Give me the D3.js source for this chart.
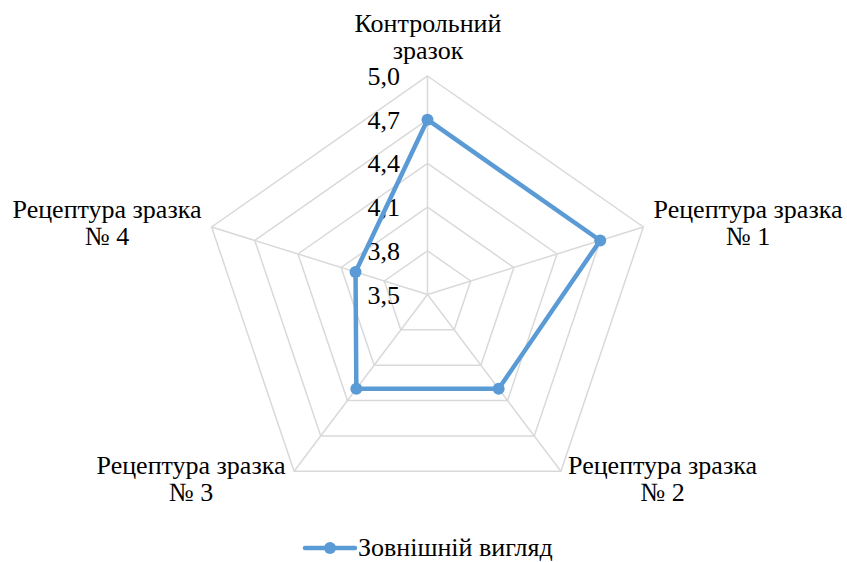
<!DOCTYPE html>
<html><head><meta charset="utf-8">
<script src="https://cdn.jsdelivr.net/npm/d3@7"></script>
<style>body{margin:0;background:#fff}svg{display:block}</style>
</head><body>
<svg id="c" width="847" height="562"></svg>
<script>
const categories = [["Контрольний","зразок"],["Рецептура зразка","№ 1"],["Рецептура зразка","№ 2"],["Рецептура зразка","№ 3"],["Рецептура зразка","№ 4"]];
const seriesName = "Зовнішній вигляд";
const values = [4.7, 4.7, 4.3, 4.3, 4.0];
const ticks = [3.5, 3.8, 4.1, 4.4, 4.7, 5.0];
const tickLabels = ["3,5","3,8","4,1","4,4","4,7","5,0"];

const FONT = "'Liberation Serif', 'Times New Roman', serif";
const FS = 26;
const svg = d3.select("#c");
const cx = 427.5, cy = 294.5, rx = 227, ry = 218.5;
const r = d3.scaleLinear().domain([3.5, 5.0]).range([0, 1]);
const n = categories.length;
const ang = i => i * 2 * Math.PI / n;
const pt = (i, v) => [cx + rx * r(v) * Math.sin(ang(i)), cy - ry * r(v) * Math.cos(ang(i))];

const grid = svg.append("g");
ticks.slice(1).forEach(t => {
  grid.append("path")
    .attr("d", d3.line()(d3.range(n).map(i => pt(i, t))) + "Z")
    .attr("fill", "none").attr("stroke", "#d9d9d9").attr("stroke-width", 1.5);
});
d3.range(n).forEach(i => {
  const p = pt(i, 5.0);
  grid.append("line").attr("x1", cx).attr("y1", cy).attr("x2", p[0]).attr("y2", p[1])
    .attr("stroke", "#d9d9d9").attr("stroke-width", 1.5);
});

ticks.forEach((t, k) => {
  svg.append("text").attr("x", 400).attr("y", cy - ry * r(t) + 9)
    .attr("text-anchor", "end").attr("font-size", FS).attr("font-family", FONT).text(tickLabels[k]);
});

const col = "#5b9bd5";
svg.append("path")
  .attr("d", d3.line()(values.map((v, i) => pt(i, v))) + "Z")
  .attr("fill", "none").attr("stroke", col).attr("stroke-width", 4.5).attr("stroke-linejoin", "round");
svg.selectAll("circle.m").data(values).join("circle").attr("class", "m")
  .attr("cx", (v, i) => pt(i, v)[0]).attr("cy", (v, i) => pt(i, v)[1])
  .attr("r", 6).attr("fill", col);

const labelPos = [[428, 31.5], [748, 217.5], [662.5, 473.5], [191, 473.5], [107, 217.5]];
categories.forEach((c, i) => {
  const t = svg.append("text").attr("text-anchor", "middle").attr("font-size", FS).attr("font-family", FONT);
  c.forEach((line, j) => t.append("tspan").attr("x", labelPos[i][0]).attr("y", labelPos[i][1] + j * 27.8).text(line));
});

const lg = svg.append("g");
lg.append("line").attr("x1", 305).attr("x2", 355).attr("y1", 548).attr("y2", 548)
  .attr("stroke", col).attr("stroke-width", 4.5).attr("stroke-linecap", "round");
lg.append("circle").attr("cx", 330).attr("cy", 548).attr("r", 6).attr("fill", col);
lg.append("text").attr("x", 358).attr("y", 556).attr("font-size", FS).attr("font-family", FONT).text(seriesName);
</script>
</body></html>
